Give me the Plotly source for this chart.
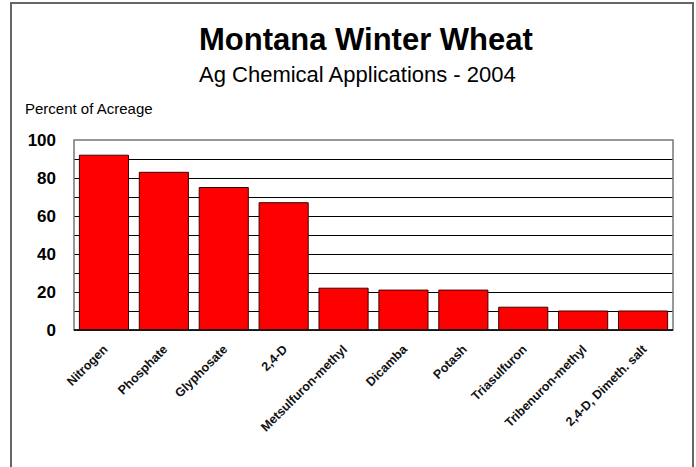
import plotly.graph_objects as go

categories = ["Nitrogen", "Phosphate", "Glyphosate", "2,4-D", "Metsulfuron-methyl",
              "Dicamba", "Potash", "Triasulfuron", "Tribenuron-methyl", "2,4-D, Dimeth. salt"]
values = [92, 83, 75, 67, 22, 21, 21, 12, 10, 10]
y_ticks = [0, 20, 40, 60, 80, 100]

W, H = 696, 467
L, R, T, B = 74, 23, 140, 137
pw = W - L - R
ph = H - T - B

def px(x):
    return (x - L) / pw

def py(y):
    return (H - B - y) / ph

font = "Arial, 'Liberation Sans', sans-serif"

fig = go.Figure()
fig.add_trace(go.Bar(
    x=categories, y=values,
    marker=dict(color="#ff0000", line=dict(color="#400000", width=1)),
    width=0.82,
))

fig.update_layout(
    width=W, height=H,
    margin=dict(l=L, r=R, t=T, b=B),
    paper_bgcolor="white", plot_bgcolor="white",
    showlegend=False,
    font=dict(family=font, color="black"),
    xaxis=dict(
        showgrid=False, showline=True, linecolor="black", linewidth=1,
        ticks="", tickangle=-45, ticklabelstandoff=6,
        tickfont=dict(family=font, size=12.5, color="#111111", weight="bold"),
    ),
    yaxis=dict(
        range=[0, 100], tickvals=y_ticks, ticktext=[str(v) for v in y_ticks],
        showgrid=True, gridcolor="black", gridwidth=1,
        showline=False, zeroline=False, ticks="",
        tickfont=dict(family=font, size=17, color="black", weight="bold"),
        ticklabelstandoff=17,
        minor=dict(dtick=10, showgrid=True, gridcolor="black", gridwidth=1),
    ),
    shapes=[
        dict(type="rect", xref="paper", yref="paper", x0=0, x1=1, y0=0, y1=1,
             line=dict(color="#777777", width=1.5), fillcolor="rgba(0,0,0,0)", layer="above"),
        dict(type="line", xref="paper", yref="paper", x0=0, x1=1, y0=0, y1=0,
             line=dict(color="black", width=1.5), layer="above"),
        dict(type="rect", xref="paper", yref="paper",
             x0=px(11), x1=px(693), y0=py(3), y1=py(475),
             line=dict(color="#666666", width=2), fillcolor="rgba(0,0,0,0)"),
    ],
    annotations=[
        dict(text="Montana Winter Wheat", xref="paper", yref="paper",
             x=px(366), y=py(40), xanchor="center", yanchor="middle", showarrow=False,
             font=dict(family=font, size=31, color="black", weight="bold")),
        dict(text="Ag Chemical Applications - 2004", xref="paper", yref="paper",
             x=px(357), y=py(74), xanchor="center", yanchor="middle", showarrow=False,
             font=dict(family=font, size=22, color="black")),
        dict(text="Percent of Acreage", xref="paper", yref="paper",
             x=px(23), y=py(109), xanchor="left", yanchor="middle", showarrow=False,
             font=dict(family=font, size=15, color="black")),
    ],
)

fig.write_html("out.html")
